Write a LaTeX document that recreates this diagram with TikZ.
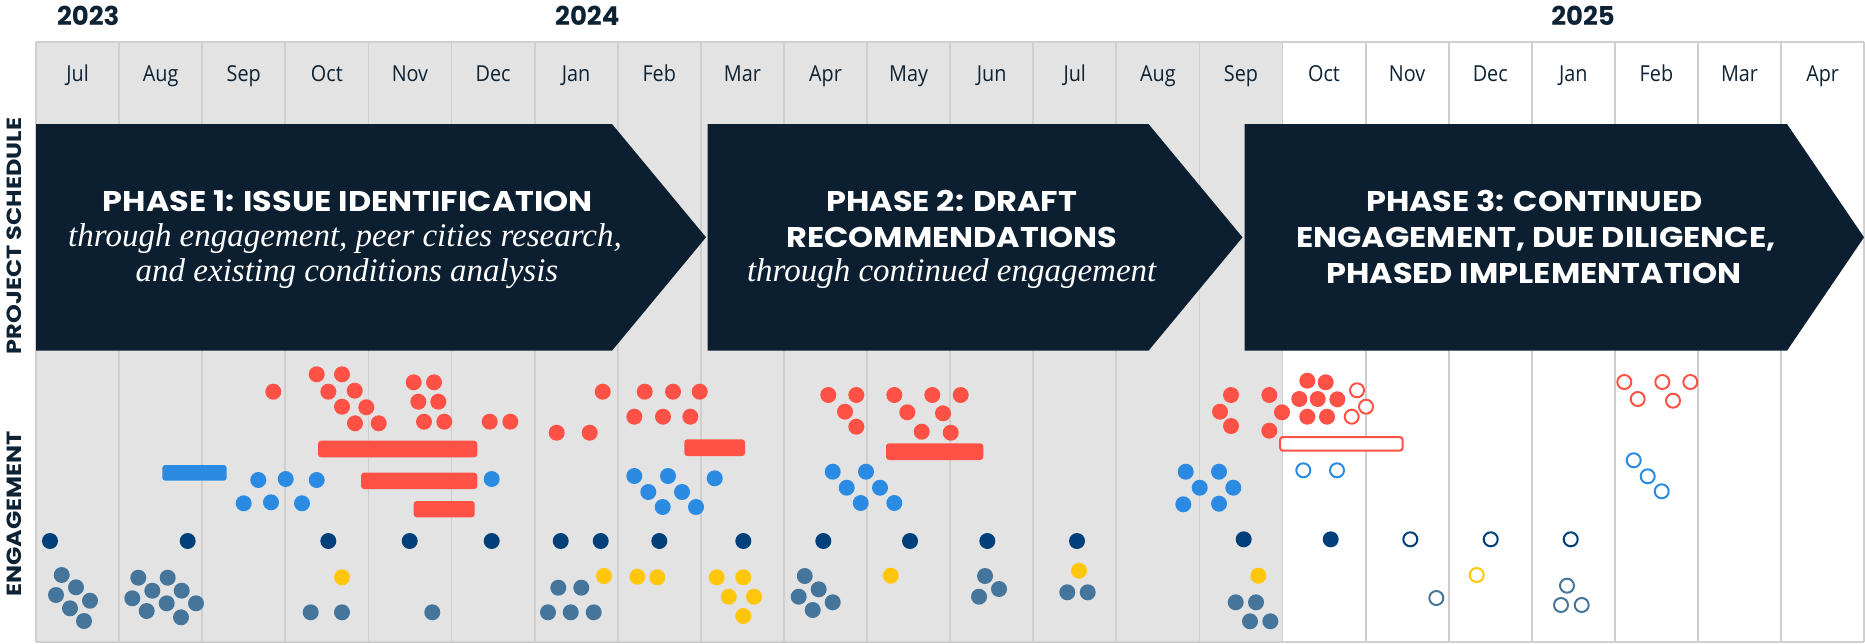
\documentclass[tikz,border=0pt]{standalone}
\usepackage{fontspec}
\newfontfamily\popfont{Poppins}
\newfontfamily\popwide{Poppins}[FakeStretch=1.12]
\newfontfamily\popside{Poppins}[FakeStretch=1.17]
\newfontfamily\monthfont{Open Sans}[FakeStretch=0.9]
\newfontfamily\serfont{Liberation Serif}
\definecolor{cgrey}{HTML}{E3E3E3}
\definecolor{cline}{HTML}{CFCFCF}
\definecolor{carrow}{HTML}{0B1F30}
\definecolor{ctext}{HTML}{0D2233}
\definecolor{cred}{HTML}{FF5146}
\definecolor{cblue}{HTML}{2B8BE3}
\definecolor{cnavy}{HTML}{00407A}
\definecolor{csteel}{HTML}{46759B}
\definecolor{cyel}{HTML}{FFC60A}
\begin{document}
\begin{tikzpicture}[x=1pt,y=-1pt,
  gridline/.style={draw=cline,line width=1.8pt},
  month/.style={anchor=base,inner sep=0pt,text=ctext,font=\monthfont\fontsize{22}{26}\selectfont},
  yr/.style={anchor=base east,inner sep=0pt,text=ctext,font=\popfont\bfseries\fontsize{26}{30}\selectfont},
  side/.style={rotate=90,inner sep=0pt,text=ctext,font=\popside\bfseries\fontsize{20.5}{24}\selectfont},
  phase/.style={fill=carrow},
  ttl/.style={anchor=base,inner sep=0pt,text=white,font=\popwide\bfseries\fontsize{28.5}{32}\selectfont},
  itl/.style={anchor=base,inner sep=0pt,text=white,font=\serfont\itshape\fontsize{33}{37}\selectfont},
  bar/.style={rounded corners=3pt},
  odot/.style={line width=2pt,fill=white}
]
\useasboundingbox (0,0) rectangle (1865,643);
% background grid
\fill[cgrey] (36,42) rectangle (1282.5,642);
\foreach \k in {0,...,22} \draw[gridline] ({36+83.1*\k},42) -- ({36+83.1*\k},642);
\draw[gridline] (36,42) -- (1864.2,42);
\draw[gridline] (36,642) -- (1864.2,642);
% years
\node[yr] (y23) at (119.6,25) {2023};
\node[yr] (y24) at (619.6,25) {2024};
\node[yr] (y25) at (1615,25) {2025};
% months
\foreach \m [count=\i from 0] in {Jul,Aug,Sep,Oct,Nov,Dec,Jan,Feb,Mar,Apr,May,Jun,Jul,Aug,Sep,Oct,Nov,Dec,Jan,Feb,Mar,Apr}
  \node[month] (m\i) at ({36+83.1*(\i+0.5)},81.7) {\m};
% side labels
\node[side] (ps) at (14.5,236) {PROJECT SCHEDULE};
\node[side] (eg) at (14.5,514) {ENGAGEMENT};
% phase arrows
\fill[phase] (36,124) -- (612,124) -- (706,237.3) -- (612,350.7) -- (36,350.7) -- cycle;
\fill[phase] (707.7,124) -- (1148.5,124) -- (1242.5,237.3) -- (1148.5,350.7) -- (707.7,350.7) -- cycle;
\fill[phase] (1244.5,124) -- (1787,124) -- (1864,237.3) -- (1787,350.7) -- (1244.5,350.7) -- cycle;
\node[ttl] (p1t) at (348,211.5) {PHASE 1: ISSUE IDENTIFICATION};
\node[itl] (p1a) at (345,246.7) {through engagement, peer cities research,};
\node[itl] (p1b) at (347,281) {and existing conditions analysis};
\node[ttl] (p2t) at (951.7,211) {PHASE 2: DRAFT};
\node[ttl] (p2u) at (951.8,247.5) {RECOMMENDATIONS};
\node[itl] (p2a) at (951.7,281.7) {through continued engagement};
\node[ttl] (p3t) at (1534.4,211) {PHASE 3: CONTINUED};
\node[ttl] (p3u) at (1535.8,247.5) {ENGAGEMENT, DUE DILIGENCE,};
\node[ttl] (p3v) at (1533.8,283) {PHASED IMPLEMENTATION};
% bars
\fill[cblue,bar] (162.3,465) rectangle (226.7,480.7);
\fill[cred,bar] (318,440.7) rectangle (477.3,457.3);
\fill[cred,bar] (361,472.7) rectangle (477.3,489);
\fill[cred,bar] (413.7,501) rectangle (474.7,517.3);
\fill[cred,bar] (684.3,439.3) rectangle (745,456);
\fill[cred,bar] (886,443.3) rectangle (983.3,460);
\draw[cred,odot,bar] (1280,437) rectangle (1402.7,450.7);
% red filled dots
\foreach \x/\y in {273.3/391.7,
  316.7/374.3,342/374.3,328.3/391.7,354.7/390.7,342/406.7,366.3/407.3,355/423.3,378.7/423.3,
  413.7/382.3,434/382.3,418.3/401.7,438.3/401.7,424/421.7,444.3/421.7,
  489.7/421.7,510.3/421.7,
  602.7/391.7,556.7/432.7,589.7/432.7,
  644.7/391.7,673/391.7,699.7/391.7,634.3/416.7,663/416.7,690.3/416.7,
  828.3/395,856.3/395,845/411.7,856.3/426.7,
  894.3/395,932.3/395,960.7/395,907.3/412.3,943/413.3,921.7/431.7,950.7/432.7,
  1231/395,1220/411.7,1231/426,1269.3/395,1282/412.3,1269.3/430.7,
  1307.3/380.7,1325.7/382.3,1299.3/399,1317.7/399,1337.3/399.3,1307.3/416.7,1327/416.7}
  \fill[cred] (\x,\y) circle (8pt);
\foreach \x/\y in {1357/390.3,1366/406.7,1351.7/416.7,
  1624.3/382,1662.3/382,1690.3/382,1637.7/399,1673/400.7}
  \draw[cred,odot] (\x,\y) circle (7pt);
% blue
\foreach \x/\y in {258.3/480,285.7/479,316.7/480,243.7/503.3,271/502.3,302/503.3,
  491.7/479,
  634.3/476,668/476,648.3/492,682/492,662.7/507,696/507,714.7/478.3,
  832.7/471.7,866/471.7,846.7/487.7,880/487.7,860.7/503,894.3/503,
  1185.7/471.7,1219/471.7,1199.7/487.7,1233.3/487.7,1183.3/504.3,1219/503.7}
  \fill[cblue] (\x,\y) circle (8pt);
\foreach \x/\y in {1303.3/470.3,1337/470.3,1633.7/460.3,1647.7/476.3,1661.7/491.3}
  \draw[cblue,odot] (\x,\y) circle (7pt);
% navy
\foreach \x/\y in {50/541,187.7/541,328.3/541,409.7/541,491.7/541,560.7/541,600.7/541,
  659.3/541,743.3/541,823.3/541,910/541,987.3/541,1077/541,1243.7/539.3,1330.7/539.3}
  \fill[cnavy] (\x,\y) circle (8pt);
\foreach \x/\y in {1410.3/539.3,1490.7/539.3,1570.7/539.3}
  \draw[cnavy,odot] (\x,\y) circle (7pt);
% yellow
\foreach \x/\y in {342/577.3,604/576,637.3/576.7,657.3/577.3,716.7/577.3,743.3/577.3,
  728.7/596.7,754/596.7,743.3/616,890.7/575.7,1079/570.7,1258.3/575.7}
  \fill[cyel] (\x,\y) circle (8pt);
\draw[cyel,odot] (1476.7,575) circle (7pt);
% steel blue
\foreach \x/\y in {61.7/575,76/587.3,56/595,90/600.7,70/608.3,84/621,
  138.3/577.7,167.7/577.7,152.3/590.7,181.7/590.7,132.3/598.3,166.7/603.3,196/603.3,146.7/611,181/617.3,
  310.7/612.3,342/612.3,432.3/612.3,
  558.3/587.7,581.3/587.7,548/612.3,570.7/612.3,593.7/612.3,
  804.7/576,818.7/589.3,798.7/596.7,832.7/602.3,812.7/610,
  985/576,999/589,979/596.7,
  1067.3/592.3,1087.7/592.3,
  1235.7/602.3,1256/602.3,1250/621.3,1270.3/621.3}
  \fill[csteel] (\x,\y) circle (8pt);
\foreach \x/\y in {1436.3/598,1567/585.7,1561/605,1581.7/605}
  \draw[csteel,odot] (\x,\y) circle (7pt);
\end{tikzpicture}
\end{document}
